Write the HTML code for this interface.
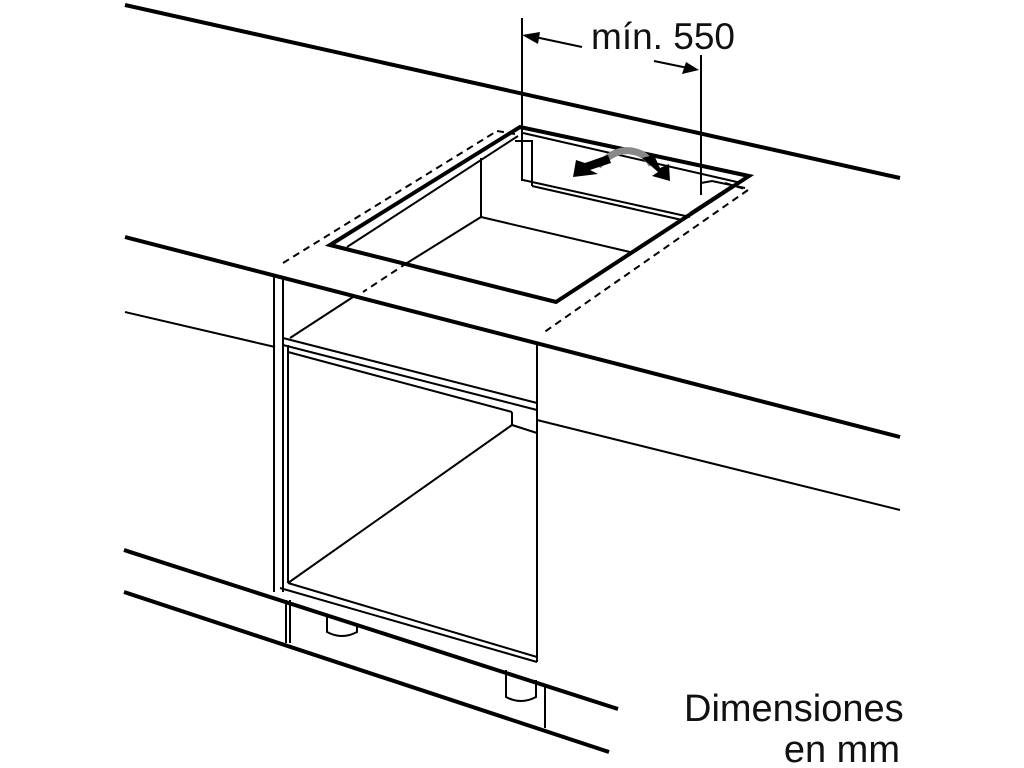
<!DOCTYPE html>
<html><head><meta charset="utf-8"><style>
html,body{margin:0;padding:0;background:#fff;}
svg{display:block;}
text{font-family:"Liberation Sans",Arial,sans-serif;fill:#111;}
</style></head><body>
<svg width="1024" height="768" viewBox="0 0 1024 768" xmlns="http://www.w3.org/2000/svg">
<g stroke="#000" fill="none" stroke-linecap="butt">
<line x1="125" y1="5" x2="900" y2="178" stroke-width="4"/>
<line x1="125" y1="237" x2="900" y2="437" stroke-width="4"/>
<line x1="125" y1="312" x2="275" y2="347" stroke-width="2"/>
<line x1="537" y1="420" x2="900" y2="510" stroke-width="2"/>
<line x1="124" y1="550" x2="618" y2="709" stroke-width="4"/>
<line x1="124" y1="592" x2="609" y2="752" stroke-width="4"/>

<g stroke-width="2" stroke-dasharray="7,5">
<polyline points="283,263 497,131"/>
<polyline points="748,190 543,333"/>
<line x1="407" y1="263" x2="363" y2="292"/>
<line x1="497" y1="131" x2="515" y2="134"/>
<line x1="725" y1="183" x2="748" y2="190"/>
</g>
<polygon points="330,245 556,302 749,176 520,127" stroke-width="4" stroke-linejoin="miter"/>
<g stroke-width="2">
<line x1="347" y1="247" x2="518" y2="136"/>
<line x1="523" y1="133" x2="737" y2="182"/>
<line x1="733" y1="185" x2="690" y2="213"/>
<line x1="481" y1="158" x2="481" y2="217"/>
<line x1="481" y1="217" x2="407" y2="263"/>
<line x1="481" y1="217" x2="630" y2="252"/>
<line x1="523" y1="180" x2="690" y2="217"/>
<line x1="532" y1="186" x2="682" y2="220"/>
<polyline points="515,141 532,141 532,186"/>
<polyline points="701,183 712,181 745,188"/>
</g>
<g stroke-width="2">
<line x1="522" y1="18" x2="522" y2="181"/>
<line x1="701" y1="55" x2="701" y2="195"/>
<line x1="582" y1="47" x2="535" y2="37"/>
<line x1="654" y1="61" x2="688" y2="68"/>
</g>
<g stroke-width="2">
<line x1="274" y1="276" x2="274" y2="592"/>
<line x1="283" y1="278" x2="283" y2="592"/>
<line x1="288" y1="345" x2="288" y2="583"/>
<line x1="537" y1="344" x2="537" y2="662"/>
<line x1="545" y1="685" x2="545" y2="728"/>
<line x1="353" y1="297" x2="290" y2="338"/>
<line x1="283" y1="338" x2="537" y2="403"/>
<line x1="283" y1="345" x2="537" y2="410"/>
<line x1="288" y1="352" x2="512" y2="412"/>
<line x1="512" y1="412" x2="512" y2="425"/>
<line x1="512" y1="425" x2="537" y2="433"/>
<line x1="512" y1="425" x2="288" y2="583"/>
<line x1="288" y1="583" x2="537" y2="657"/>
<line x1="280" y1="588" x2="537" y2="662"/>
<line x1="286" y1="600" x2="286" y2="643"/>
<line x1="290" y1="600" x2="290" y2="643"/>
<path d="M327,615 V632 Q342,640 357,632 V624"/>
<path d="M506,670 V697 Q521,705 536,697 V680"/>
</g>
</g>
<polygon points="522,35 540,32 538,44" fill="#000"/>
<polygon points="699,70 682,74 686,62" fill="#000"/>
<path d="M598,166 Q615,148 632,151" stroke="#888" stroke-width="7" fill="none"/>
<path d="M630,151 Q645,152 652,165" stroke="#888" stroke-width="7" fill="none"/>
<polygon points="573,177 576,160 585,163 608,155 611,163 590,170 598,174" fill="#000"/>
<polygon points="642,158 654,155 660,168 669,164 670,181 652,176 658,172" fill="#000"/>
<text x="591" y="49" font-size="37">mín. 550</text>
<text x="684" y="721" font-size="38">Dimensiones</text>
<text x="900" y="762" font-size="38" text-anchor="end">en mm</text>
</svg>
</body></html>
